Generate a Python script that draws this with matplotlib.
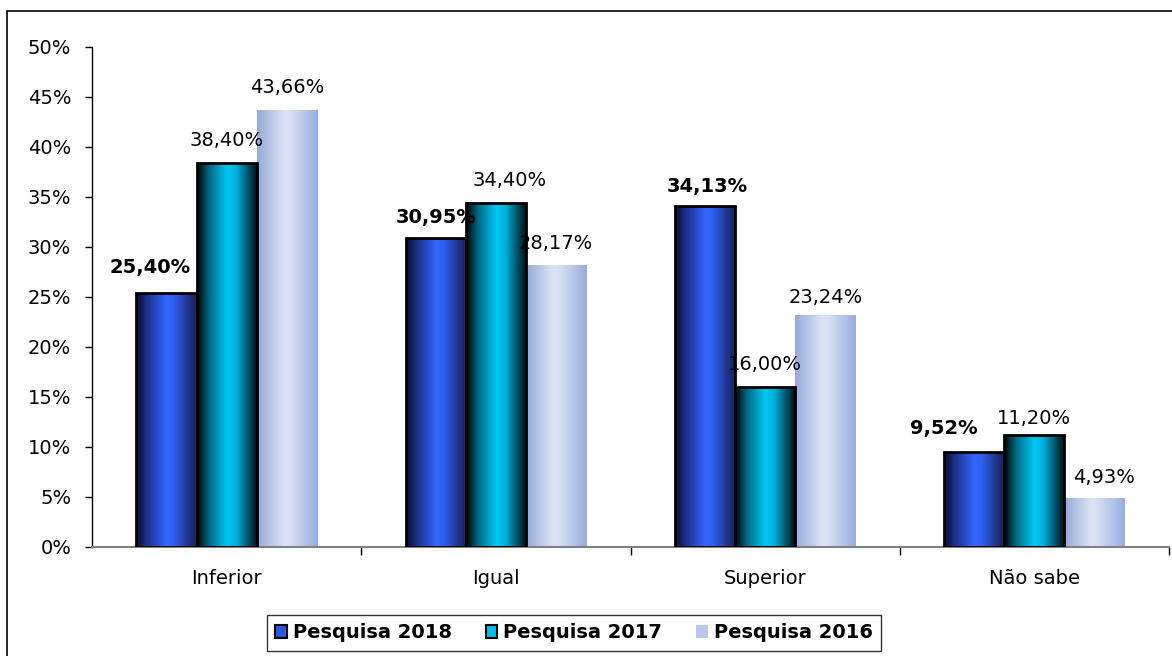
import numpy as np
import matplotlib
matplotlib.use("Agg")
import matplotlib.pyplot as plt
from matplotlib.colors import LinearSegmentedColormap
from matplotlib.patches import Patch, Rectangle
from matplotlib.ticker import PercentFormatter

categories = ["Inferior", "Igual", "Superior", "Não sabe"]
series_names = ["Pesquisa 2018", "Pesquisa 2017", "Pesquisa 2016"]
v2018 = [25.40, 30.95, 34.13, 9.52]
v2017 = [38.40, 34.40, 16.00, 11.20]
v2016 = [43.66, 28.17, 23.24, 4.93]
label_2018 = ["25,40%", "30,95%", "34,13%", "9,52%"]
label_2017 = ["38,40%", "34,40%", "16,00%", "11,20%"]
label_2016 = ["43,66%", "28,17%", "23,24%", "4,93%"]
yticks = [0, 5, 10, 15, 20, 25, 30, 35, 40, 45, 50]

plt.rcParams['font.family'] = ['DejaVu Sans']

fig = plt.figure(figsize=(11.72, 6.56), dpi=100)
ax = fig.add_axes([92/1172, 1-547/656, (1169-92)/1172, 500/656])

# outer frame
fig.patches.append(Rectangle((6.5/1172, -0.05), 1.2, 1-10.5/656+0.05, transform=fig.transFigure,
                             fill=False, edgecolor='black', linewidth=1.2, zorder=0))

cmaps = [
    LinearSegmentedColormap.from_list("c18", [(0, '#080c28'), (0.15, '#1a2a80'), (0.5, '#3366ff'), (0.62, '#3060f0'), (0.85, '#22358f'), (1, '#18204f')]),
    LinearSegmentedColormap.from_list("c17", [(0, '#000000'), (0.2, '#006a85'), (0.5, '#00c8f5'), (0.65, '#00b0d8'), (0.88, '#004050'), (1, '#000a0d')]),
    LinearSegmentedColormap.from_list("c16", [(0, '#95a9da'), (0.45, '#dde4f4'), (0.55, '#d8e0f2'), (1, '#97addd')]),
]
edges = ['black', 'black', 'none']
solid = ['#2a55e0', '#00c0ea', '#b8c7ea']

x = np.arange(len(categories))
w = 0.2235
grad = np.linspace(0, 1, 256).reshape(1, -1)
all_vals = [v2018, v2017, v2016]
all_labels = [label_2018, label_2017, label_2016]
weights = ['bold', 'normal', 'normal']
offx = [[-16, 0, 2, -30], [0, 14, 0, 0], [0, 0, 0, 9]]
offy = [[25, 20, 19, 23], [22, 23, 22, 16], [23, 22, 17, 20]]
fs = 14

for s, vals in enumerate(all_vals):
    bars = ax.bar(x + (s - 1) * w, vals, width=w, color='none', edgecolor='none', zorder=2)
    for b in bars:
        x0, y0 = b.get_x(), b.get_y()
        im = ax.imshow(grad, cmap=cmaps[s], aspect='auto',
                       extent=(x0, x0 + b.get_width(), y0, y0 + b.get_height()),
                       zorder=2, interpolation='bilinear')
        im.set_clip_path(b)
        if edges[s] != 'none':
            ax.add_patch(Rectangle((x0, y0), b.get_width(), b.get_height(), fill=False,
                                   edgecolor='black', linewidth=2.0, zorder=3))
    for i, b in enumerate(bars):
        ax.annotate(all_labels[s][i], (b.get_x() + b.get_width() / 2, b.get_height()),
                    xytext=(offx[s][i], offy[s][i]), textcoords='offset pixels',
                    ha='center', va='center', fontsize=fs, fontweight=weights[s], zorder=4)

ax.set_xlim(-0.5, 3.5)
ax.set_ylim(0, 50)
ax.set_yticks(yticks)
ax.yaxis.set_major_formatter(PercentFormatter(decimals=0))
ax.set_xticks(x)
ax.set_xticklabels(categories)
ax.set_xticks([0.5, 1.5, 2.5, 3.5], minor=True)
ax.tick_params(axis='x', which='major', length=0, pad=16, labelsize=fs)
ax.tick_params(axis='x', which='minor', length=6, direction='out', width=1)
ax.tick_params(axis='y', length=5, direction='out', width=1, pad=10, labelsize=fs)
ax.spines['top'].set_visible(False)
ax.spines['right'].set_visible(False)
ax.spines['bottom'].set_color('#808080')
ax.spines['bottom'].set_linewidth(1.5)
ax.spines['left'].set_linewidth(1)

handles = [Patch(facecolor=solid[i], edgecolor=edges[i] if edges[i] != 'none' else 'none', linewidth=1.5)
           for i in range(3)]
leg = fig.legend(handles, series_names, loc='center', bbox_to_anchor=(574/1172, 1-633/656),
                 ncol=3, frameon=True, fancybox=False, edgecolor='black', handlelength=0.6,
                 handleheight=0.6, handletextpad=0.3, columnspacing=1.75, borderpad=0.45,
                 borderaxespad=0, prop={'weight': 'bold', 'size': 14})
leg.get_frame().set_linewidth(1.0)

fig.savefig('out.png', dpi=100)
